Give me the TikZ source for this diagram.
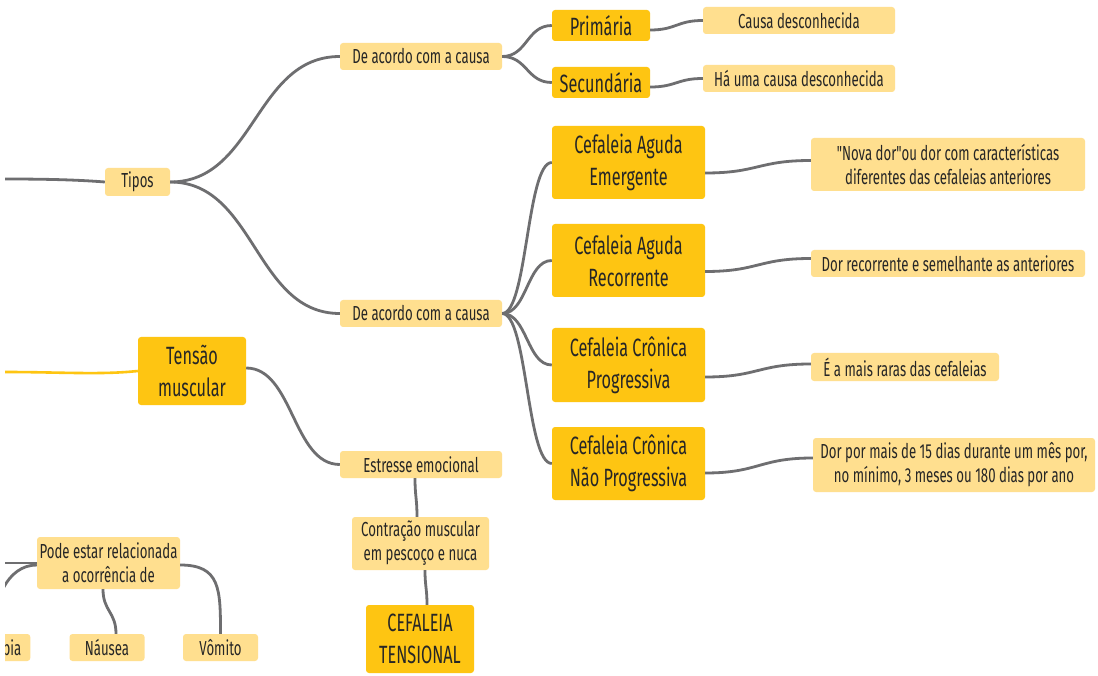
\documentclass[tikz,border=0pt]{standalone}
\usepackage{fontspec}
\setmainfont{Fira Sans}[FakeStretch=0.65, Ligatures=TeXOff]
\definecolor{darkY}{RGB}{254,197,18}
\definecolor{lightY}{RGB}{255,223,143}
\definecolor{linkG}{RGB}{110,110,112}
\definecolor{txt}{RGB}{38,38,38}
\begin{document}
\begin{tikzpicture}[x=1pt,y=-1pt,
  lbox/.style={fill=lightY, rounded corners=3pt, inner sep=0pt, text=txt, align=center,
    font=\fontsize{20.3}{24}\selectfont},
  dbox/.style={fill=darkY, rounded corners=3pt, inner sep=0pt, text=txt, align=center,
    font=\fontsize{25}{32}\selectfont},
  link/.style={draw=linkG, line width=2.8pt},
  ylink/.style={draw=darkY, line width=2.6pt},
  sz/.style 2 args={minimum width=#1pt, minimum height=#2pt},
]
\useasboundingbox (0,0) rectangle (1098,676);
\fill[white] (0,0) rectangle (1098,676);
\clip (5,0) rectangle (1098,676);

% types branch
\node[lbox, sz={65}{28}]  (tipos)   at (137.5,182)  {Tipos};
\node[lbox, sz={162}{27}] (daccA)   at (421,56.5)   {De acordo com a causa};
\node[lbox, sz={162}{27}] (daccB)   at (421,313.5)  {De acordo com a causa};
\node[dbox, sz={98}{31}]  (prim)    at (601,25.5)   {Primária};
\node[dbox, sz={98}{31}]  (sec)     at (601,82.5)   {Secundária};
\node[lbox, sz={192}{27}] (causa)   at (799,20.5)   {Causa desconhecida};
\node[lbox, sz={192}{27}] (hacausa) at (799,78.5)   {Há uma causa desconhecida};

\node[dbox, sz={153}{73}] (emerg)   at (628.5,162.5) {Cefaleia Aguda\\Emergente};
\node[dbox, sz={153}{73}] (recor)   at (628.5,260.5) {Cefaleia Aguda\\Recorrente};
\node[dbox, sz={153}{74}] (progr)   at (628.5,365)   {Cefaleia Crônica\\Progressiva};
\node[dbox, sz={153}{73}] (naoprog) at (628.5,463.5) {Cefaleia Crônica\\Não Progressiva};

\node[lbox, sz={274}{53}] (novador) at (948,164.5) {"Nova dor"ou dor com características\\diferentes das cefaleias anteriores};
\node[lbox, sz={274}{27}] (dorrec)  at (948,263.5) {Dor recorrente e semelhante as anteriores};
\node[lbox, sz={188}{28}] (rara)    at (905,367)   {É a mais raras das cefaleias};
\node[lbox, sz={282}{54}] (dormais) at (954,465)   {Dor por mais de 15 dias durante um mês por,\\no mínimo, 3 meses ou 180 dias por ano};

% muscle tension branch
\node[dbox, sz={108}{68}] (tensao)   at (192,371)     {Tensão\\muscular};
\node[lbox, sz={162}{27}] (estresse) at (421,464.5)   {Estresse emocional};
\node[lbox, sz={137}{53}] (contr)    at (420.5,543.5) {Contração muscular\\em pescoço e nuca};
\node[dbox, sz={108}{68}] (cefal)    at (420,639)     {CEFALEIA\\TENSIONAL};

% related symptoms
\node[lbox, sz={143}{52}] (pode)   at (108.5,563)   {Pode estar relacionada\\a ocorrência de};
\node[lbox, sz={75}{27}]  (nausea) at (107,647.5)   {Náusea};
\node[lbox, sz={75}{27}]  (vomito) at (220.5,647.5) {Vômito};
\node[lbox, minimum height=27pt, inner xsep=9pt, anchor=east] (foto) at (30.5,647.5) {Fotofobia};

\coordinate (inA) at (5,179);
\coordinate (inB) at (5,372);
\coordinate (inC) at (5,563);

% connectors
\draw[link] (inA) .. controls (50,179) and (80,180) .. (tipos.west);
\draw[link] (tipos.east) .. controls +(85,0) and +(-85,0) .. (daccA.west);
\draw[link] (tipos.east) .. controls +(85,0) and +(-85,0) .. (daccB.west);
\draw[link] (daccA.east) .. controls +(25,0) and +(-25,0) .. (prim.west);
\draw[link] (daccA.east) .. controls +(25,0) and +(-25,0) .. (sec.west);
\foreach \n in {emerg,recor,progr,naoprog}
  \draw[link] (daccB.east) .. controls +(25,0) and +(-25,0) .. (\n.west);

\draw[link] ([yshift=-4.5pt]prim.east) .. controls +(26,0) and +(-26,0) .. (causa.west);
\draw[link] ([yshift=-4.5pt]sec.east) .. controls +(26,0) and +(-26,0) .. (hacausa.west);
\draw[link] ([yshift=-10.5pt]emerg.east) .. controls +(53,0) and +(-53,0) .. ([yshift=4pt]novador.west);
\draw[link] ([yshift=-11pt]recor.east) .. controls +(53,0) and +(-53,0) .. ([yshift=5pt]dorrec.west);
\draw[link] ([yshift=-12pt]progr.east) .. controls +(53,0) and +(-53,0) .. ([yshift=3pt]rara.west);
\draw[link] ([yshift=-9.5pt]naoprog.east) .. controls +(54,0) and +(-54,0) .. ([yshift=7pt]dormais.west);

\draw[ylink] (inB) .. controls (60,372) and (100,375) .. (tensao.west);
\draw[link] ([yshift=3pt]tensao.east) .. controls +(47,0) and +(-47,0) .. (estresse.west);
\draw[link] ([xshift=-6pt]estresse.south) .. controls +(0,18) and +(0,-18) .. ([xshift=-3.5pt]contr.north);
\draw[link] ([xshift=4.5pt]contr.south) .. controls +(0,16) and +(0,-16) .. ([xshift=7pt]cefal.north);

\draw[link] (inC) -- (pode.west);
\draw[link] ([yshift=-2pt]pode.west) .. controls +(-30,0) and +(0,-32) .. (foto.north);
\draw[link] ([xshift=-5.5pt]pode.south) .. controls +(0,22) and +(0,-22) .. ([xshift=9pt]nausea.north);
\draw[link] ([yshift=-2pt]pode.east) .. controls +(40,0) and +(0,-45) .. (vomito.north);
\end{tikzpicture}
\end{document}
